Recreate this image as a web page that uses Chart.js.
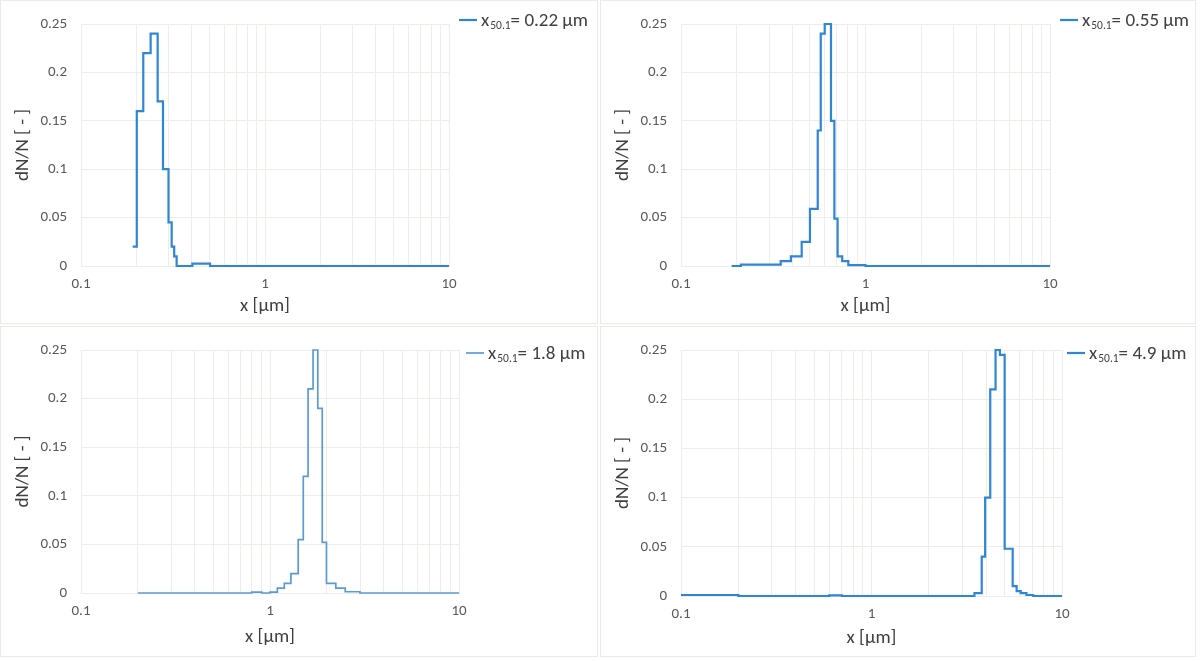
<!DOCTYPE html>
<html>
<head>
<meta charset="utf-8">
<script src="https://cdn.jsdelivr.net/npm/chart.js@4.4.1/dist/chart.umd.min.js"></script>
<style>
  body { margin: 0; background: #fff; width: 1200px; height: 661px; position: relative; overflow: hidden; }
  .panel { position: absolute; border: 1px solid #ebebe6; background: #fff; }
  .panel canvas { display: block; }
</style>
</head>
<body>
<div class="panel" style="left:0px;top:0px;"><canvas id="c1" width="596" height="322"></canvas></div>
<div class="panel" style="left:600px;top:0px;"><canvas id="c2" width="594" height="322"></canvas></div>
<div class="panel" style="left:0px;top:326px;"><canvas id="c3" width="596" height="329"></canvas></div>
<div class="panel" style="left:600px;top:326px;"><canvas id="c4" width="594" height="329"></canvas></div>
<script>
// log x grid, labelled only at the decades
const xGridTicks = [0.1, 0.2, 0.3, 0.4, 0.5, 0.6, 0.7, 0.8, 0.9, 1, 2, 3, 4, 5, 6, 7, 8, 9, 10];
const xTickLabels = [0.1, 1, 10];

// step edges [µm] and dN/N, value holds until the next edge
const edges1 = [0.191, 0.201, 0.218, 0.239, 0.261, 0.279, 0.299, 0.311, 0.321, 0.331, 0.403, 0.503, 10];
const dn1    = [0.02, 0.16, 0.22, 0.24, 0.17, 0.10, 0.045, 0.02, 0.01, 0, 0.0025, 0, 0];

const edges2 = [0.188, 0.211, 0.347, 0.394, 0.451, 0.500, 0.551, 0.572, 0.601, 0.650, 0.678, 0.706, 0.748, 0.807, 1.0, 10];
const dn2    = [0, 0.0015, 0.005, 0.01, 0.025, 0.059, 0.14, 0.24, 0.25, 0.15, 0.049, 0.01, 0.005, 0.001, 0, 0];

const edges3 = [0.2, 0.80, 0.905, 1.0, 1.094, 1.19, 1.29, 1.41, 1.50, 1.59, 1.69, 1.79, 1.89, 1.99, 2.23, 2.50, 2.99, 10];
const dn3    = [0, 0.001, 0, 0.001, 0.005, 0.01, 0.02, 0.055, 0.12, 0.21, 0.25, 0.19, 0.052, 0.01, 0.005, 0.0013, 0, 0];

const edges4 = [0.1, 0.2, 0.60, 0.70, 3.47, 3.79, 3.95, 4.20, 4.48, 4.72, 5.00, 5.51, 5.78, 6.07, 6.51, 7.06, 10];
const dn4    = [0.001, 0, 0.0007, 0, 0.003, 0.04, 0.10, 0.21, 0.25, 0.245, 0.048, 0.01, 0.005, 0.003, 0.001, 0, 0];

const x50Labels = ['0.22 µm', '0.55 µm', '1.8 µm', '4.9 µm'];

const fontFamily = 'Calibri, Carlito, Lato, sans-serif';
const gridColor = '#efeee6';

// legend with the subscripted x50.1
const sizeLegend = {
    id: 'sizeLegend',
    afterDraw(chart, args, opts) {
        const ctx = chart.ctx;
        const x0 = chart.chartArea.right + opts.gap;
        const y = opts.y;
        ctx.save();
        ctx.strokeStyle = opts.color;
        ctx.lineWidth = opts.lineWidth;
        ctx.beginPath();
        ctx.moveTo(x0, y);
        ctx.lineTo(x0 + 18, y);
        ctx.stroke();
        ctx.fillStyle = '#404040';
        ctx.textBaseline = 'alphabetic';
        let x = x0 + 22;
        ctx.font = '19px ' + fontFamily;
        ctx.fillText('x', x, y + 6);
        x += ctx.measureText('x').width + 1;
        ctx.font = '11.5px ' + fontFamily;
        ctx.fillText('50.1', x, y + 9);
        x += ctx.measureText('50.1').width;
        ctx.font = '19px ' + fontFamily;
        ctx.fillText('= ' + opts.label, x, y + 6);
        ctx.restore();
    }
};

const makeChart = (id, edges, values, cfg) => {
    const points = edges.map((e, i) => ({ x: e, y: values[i] }));
    return new Chart(document.getElementById(id), {
        type: 'line',
        data: {
            datasets: [{
                data: points,
                borderColor: cfg.color,
                borderWidth: cfg.lineWidth,
                pointRadius: 0,
                stepped: true,
                fill: false,
                clip: 4
            }]
        },
        options: {
            responsive: false,
            animation: false,
            layout: { padding: { top: cfg.top, right: cfg.right, left: 0, bottom: 0 } },
            scales: {
                x: {
                    type: 'logarithmic',
                    min: 0.1,
                    max: 10,
                    afterBuildTicks: scale => { scale.ticks = xGridTicks.map(v => ({ value: v })); },
                    afterFit: scale => { scale.height = cfg.xHeight; },
                    grid: { color: gridColor, drawTicks: false },
                    border: { color: gridColor },
                    ticks: {
                        autoSkip: false,
                        maxRotation: 0,
                        padding: 9,
                        color: '#595959',
                        font: { family: fontFamily, size: 15 },
                        callback: v => xTickLabels.includes(v) ? String(v) : ''
                    },
                    title: {
                        display: true,
                        text: 'x [µm]',
                        color: '#404040',
                        font: { family: fontFamily, size: 19 },
                        padding: { top: 0, bottom: cfg.xTitlePad }
                    }
                },
                y: {
                    min: 0,
                    max: 0.25,
                    afterFit: scale => { scale.width = 80; },
                    grid: { color: gridColor, drawTicks: false },
                    border: { color: gridColor },
                    ticks: {
                        stepSize: 0.05,
                        padding: 14,
                        color: '#595959',
                        font: { family: fontFamily, size: 15 },
                        callback: v => String(+v.toFixed(2))
                    },
                    title: {
                        display: true,
                        text: 'dN/N [ - ]',
                        color: '#404040',
                        font: { family: fontFamily, size: 19 },
                        padding: { top: 11, bottom: 0 }
                    }
                }
            },
            plugins: {
                legend: { display: false },
                tooltip: { enabled: false },
                sizeLegend: { label: cfg.label, color: cfg.color, lineWidth: cfg.lineWidth, gap: cfg.gap, y: cfg.legendY }
            }
        },
        plugins: [sizeLegend]
    });
};

makeChart('c1', edges1, dn1, { label: x50Labels[0], color: '#2e86d4', lineWidth: 2.2, top: 15, right: 148, xHeight: 57, xTitlePad: 5, gap: 10, legendY: 19 });
makeChart('c2', edges2, dn2, { label: x50Labels[1], color: '#2e86d4', lineWidth: 2.2, top: 15, right: 145, xHeight: 57, xTitlePad: 5, gap: 10, legendY: 19 });
makeChart('c3', edges3, dn3, { label: x50Labels[2], color: '#5b9bd5', lineWidth: 1.7, top: 19, right: 138, xHeight: 63, xTitlePad: 7, gap: 7, legendY: 26 });
makeChart('c4', edges4, dn4, { label: x50Labels[3], color: '#2e86d4', lineWidth: 2.2, top: 19, right: 133, xHeight: 60, xTitlePad: 6, gap: 5, legendY: 26 });
</script>
</body>
</html>
